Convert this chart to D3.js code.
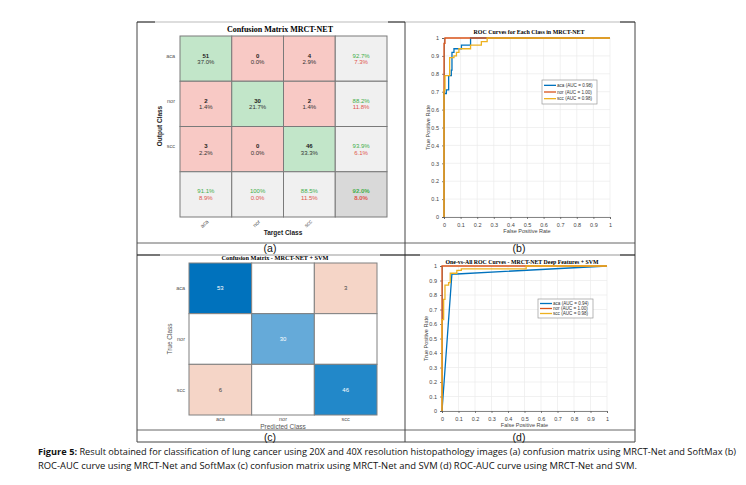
<!DOCTYPE html>
<html>
<head>
<meta charset="utf-8">
<script src="https://cdn.jsdelivr.net/npm/d3@7"></script>
<style>
  body { margin: 0; background: #fff; }
  svg { display: block; }
</style>
</head>
<body>
<svg width="746" height="485"></svg>
<script>
// Data
const classes = ["aca", "nor", "scc"];

// (a) softmax confusion matrix, rows = output class, cols = target class
const cmSoftmax = [
  [51, 0, 4],
  [2, 30, 2],
  [3, 0, 46]
];

// (c) SVM confusion matrix, rows = true class, cols = predicted class
const cmSvm = [
  [53, 0, 3],
  [0, 30, 0],
  [6, 0, 46]
];

// (b) ROC points [fpr, tpr]
const rocAcaB = [[0, 0], [0, 0.69], [0.014, 0.69], [0.014, 0.71], [0.028, 0.71], [0.028, 0.79], [0.044, 0.79], [0.044, 0.82], [0.048, 0.82], [0.048, 0.92], [0.06, 0.92], [0.06, 0.94], [0.105, 0.94], [0.105, 0.96], [0.16, 0.96], [0.16, 1], [1, 1]];
const rocNorB = [[0, 0], [0, 0.97], [0.006, 0.97], [0.006, 1], [1, 1]];
const rocSccB = [[0, 0], [0, 0.71], [0.006, 0.71], [0.006, 0.79], [0.034, 0.79], [0.034, 0.89], [0.06, 0.89], [0.06, 0.9], [0.075, 0.9], [0.075, 0.92], [0.09, 0.92], [0.09, 0.94], [0.16, 0.94], [0.16, 0.96], [0.225, 0.96], [0.225, 0.98], [0.26, 0.98], [0.26, 1], [1, 1]];
const aucB = [0.98, 1.00, 0.98];

// (d) ROC points [fpr, tpr]
const rocAcaD = [[0, 0], [0.06, 0.945], [0.09, 0.945], [1, 1]];
const rocNorD = [[0, 0], [0, 1], [1, 1]];
const rocSccD = [[0, 0], [0, 0.63], [0.01, 0.63], [0.01, 0.77], [0.018, 0.77], [0.018, 0.868], [0.04, 0.868], [0.04, 0.885], [0.05, 0.885], [0.05, 0.95], [0.09, 0.95], [0.09, 0.97], [0.117, 0.97], [0.117, 0.98], [0.51, 0.98], [0.51, 1], [1, 1]];
const aucD = [0.94, 1.00, 0.98];

const ticks = [0, 0.1, 0.2, 0.3, 0.4, 0.5, 0.6, 0.7, 0.8, 0.9, 1];
const rocColors = ["#0072bd", "#d95319", "#edb120"];

const svg = d3.select("svg");
const sans = "Arial, 'Liberation Sans', sans-serif";
const serif = "'Liberation Serif', 'Times New Roman', serif";

// Figure table borders
const borders = svg.append("g").attr("stroke-width", 1).attr("fill", "none");
[[137, 22, 635, 22, "#bbb"], [137, 243, 635, 243, "#666"], [137, 255, 635, 255, "#999"],
 [137, 430, 635, 430, "#666"], [137, 442, 635, 442, "#444"],
 [137, 22, 137, 442, "#444"], [405, 22, 405, 442, "#444"], [635, 22, 635, 442, "#444"]]
  .forEach(([x1, y1, x2, y2, c]) => {
    borders.append("line").attr("x1", x1).attr("y1", y1).attr("x2", x2).attr("y2", y2).attr("stroke", c);
  });
// short dark caps seen on the pasted images
[[137, 22, 155, 22], [388, 22, 405, 22], [620, 22, 635, 22], [137, 255, 160, 255], [380, 255, 420, 255], [620, 255, 635, 255]]
  .forEach(([x1, y1, x2, y2]) => {
    borders.append("line").attr("x1", x1).attr("y1", y1).attr("x2", x2).attr("y2", y2).attr("stroke", "#222");
  });

// Panel labels
[["(a)", 270, 252], ["(b)", 519, 252], ["(c)", 270, 441], ["(d)", 519, 441]].forEach(([t, x, y]) => {
  svg.append("text").attr("x", x).attr("y", y).attr("text-anchor", "middle")
    .attr("font-family", "'Liberation Sans', sans-serif").attr("font-size", 10.5).attr("fill", "#111").text(t);
});

// ---------- (a) Confusion matrix with summaries ----------
function panelA() {
  const g = svg.append("g");
  const n = classes.length;
  const x = d3.scaleBand().domain(d3.range(n + 1)).range([180, 387]);
  const y = d3.scaleBand().domain(d3.range(n + 1)).range([36, 217]);
  const total = d3.sum(cmSoftmax.flat());
  const fmt = v => v === 100 ? "100%" : v.toFixed(1) + "%";
  const green = "#3fae49", red = "#e0544c";

  g.append("text").attr("x", 280).attr("y", 32).attr("text-anchor", "middle")
    .attr("font-family", serif).attr("font-weight", "bold").attr("font-size", 8)
    .attr("textLength", 106).attr("lengthAdjust", "spacingAndGlyphs").text("Confusion Matrix MRCT-NET");

  for (let i = 0; i <= n; i++) {
    for (let j = 0; j <= n; j++) {
      let fill, lines;
      if (i < n && j < n) {
        const v = cmSoftmax[i][j];
        fill = i === j ? "#c2e6c9" : "#f8c9c5";
        lines = [[String(v), "#222", "bold"], [fmt(v / total * 100), "#333", "normal"]];
      } else {
        let correct, sum;
        if (i < n) { correct = cmSoftmax[i][i]; sum = d3.sum(cmSoftmax[i]); }
        else if (j < n) { correct = cmSoftmax[j][j]; sum = d3.sum(cmSoftmax, r => r[j]); }
        else { correct = d3.sum(classes, (c, k) => cmSoftmax[k][k]); sum = total; }
        const p = +(correct / sum * 100).toFixed(1);
        fill = (i === n && j === n) ? "#d9d9d9" : "#f0f0f0";
        const bold = (i === n && j === n) ? "bold" : "normal";
        lines = [[fmt(p), green, bold], [fmt(+(100 - p).toFixed(1)), red, bold]];
      }
      g.append("rect").attr("x", x(j)).attr("y", y(i)).attr("width", x.bandwidth()).attr("height", y.bandwidth())
        .attr("fill", fill).attr("stroke", "#7a7a7a").attr("stroke-width", 1);
      const cx = x(j) + x.bandwidth() / 2, cy = y(i) + y.bandwidth() / 2;
      lines.forEach(([t, c, w], k) => {
        g.append("text").attr("x", cx).attr("y", cy - 1 + k * 6.5).attr("text-anchor", "middle")
          .attr("font-family", sans).attr("font-size", 6).attr("font-weight", w).attr("fill", c).text(t);
      });
    }
  }
  classes.forEach((c, i) => {
    g.append("text").attr("x", 175).attr("y", y(i) + y.bandwidth() / 2 - 1).attr("text-anchor", "end")
      .attr("font-family", sans).attr("font-size", 5.5).attr("fill", "#555").text(c);
    g.append("text")
      .attr("transform", `translate(${x(i) + x.bandwidth() / 2 + 3},${222}) rotate(-45)`)
      .attr("text-anchor", "end").attr("font-family", sans).attr("font-size", 5.5).attr("fill", "#555").text(c);
  });
  g.append("text").attr("transform", "translate(162,126) rotate(-90)").attr("text-anchor", "middle")
    .attr("font-family", sans).attr("font-weight", "bold").attr("font-size", 6.5).attr("fill", "#222").text("Output Class");
  g.append("text").attr("x", 283).attr("y", 235).attr("text-anchor", "middle")
    .attr("font-family", sans).attr("font-weight", "bold").attr("font-size", 6.5).attr("fill", "#222").text("Target Class");
}

// ---------- (c) SVM confusion matrix ----------
function panelC() {
  const g = svg.append("g");
  const x = d3.scaleBand().domain(classes).range([189, 377]);
  const y = d3.scaleBand().domain(classes).range([263, 415]);
  const diagColor = v => v === 53 ? "#0072bd" : v === 46 ? "#2288c9" : "#65aad9";

  g.append("text").attr("x", 275).attr("y", 260).attr("text-anchor", "middle")
    .attr("font-family", serif).attr("font-weight", "bold").attr("font-size", 7)
    .attr("textLength", 107).attr("lengthAdjust", "spacingAndGlyphs").text("Confusion Matrix - MRCT-NET + SVM");

  cmSvm.forEach((row, i) => row.forEach((v, j) => {
    let fill = "#ffffff";
    if (v > 0) fill = i === j ? diagColor(v) : "#f5d5c7";
    g.append("rect").attr("x", x(classes[j])).attr("y", y(classes[i]))
      .attr("width", x.bandwidth()).attr("height", y.bandwidth())
      .attr("fill", fill).attr("stroke", "#808080").attr("stroke-width", 1);
    if (v > 0) {
      g.append("text").attr("x", x(classes[j]) + x.bandwidth() / 2).attr("y", y(classes[i]) + y.bandwidth() / 2 + 2)
        .attr("text-anchor", "middle").attr("font-family", sans).attr("font-size", 6)
        .attr("fill", i === j ? "#ffffff" : "#444").text(v);
    }
  }));
  classes.forEach(c => {
    g.append("text").attr("x", 185).attr("y", y(c) + y.bandwidth() / 2 + 2).attr("text-anchor", "end")
      .attr("font-family", sans).attr("font-size", 5.5).attr("fill", "#555").text(c);
    g.append("text").attr("x", x(c) + x.bandwidth() / 2).attr("y", 421).attr("text-anchor", "middle")
      .attr("font-family", sans).attr("font-size", 5.5).attr("fill", "#555").text(c);
  });
  g.append("text").attr("transform", "translate(172,339) rotate(-90)").attr("text-anchor", "middle")
    .attr("font-family", sans).attr("font-size", 6.5).attr("fill", "#555").text("True Class");
  g.append("text").attr("x", 283).attr("y", 428.5).attr("text-anchor", "middle")
    .attr("font-family", sans).attr("font-size", 6.5).attr("fill", "#555").text("Predicted Class");
}

// ---------- ROC panels ----------
function rocPanel(opt) {
  const g = svg.append("g");
  const x = d3.scaleLinear().domain([0, 1]).range([opt.x0, opt.x1]);
  const y = d3.scaleLinear().domain([0, 1]).range([opt.y0, opt.y1]);

  // grid
  ticks.forEach(t => {
    g.append("line").attr("x1", x(t)).attr("x2", x(t)).attr("y1", y(0)).attr("y2", y(1)).attr("stroke", "#ebebeb").attr("stroke-width", 0.7);
    g.append("line").attr("x1", x(0)).attr("x2", x(1)).attr("y1", y(t)).attr("y2", y(t)).attr("stroke", "#ebebeb").attr("stroke-width", 0.7);
  });

  const xAxis = g.append("g").attr("transform", `translate(0,${opt.y0})`)
    .call(d3.axisBottom(x).tickValues(ticks).tickSize(2).tickFormat(d3.format("")));
  const yAxis = g.append("g").attr("transform", `translate(${opt.x0},0)`)
    .call(d3.axisLeft(y).tickValues(ticks).tickSize(2).tickFormat(d3.format("")));
  [xAxis, yAxis].forEach(a => {
    a.selectAll("path,line").attr("stroke", "#555").attr("stroke-width", 0.7);
    a.selectAll("text").attr("font-family", sans).attr("font-size", 5.5).attr("fill", "#444");
  });
  xAxis.selectAll("text").attr("dy", "0.9em");

  const line = d3.line().x(d => x(d[0])).y(d => y(d[1]));
  opt.series.forEach((s, i) => {
    g.append("path").attr("d", line(s)).attr("fill", "none")
      .attr("stroke", rocColors[i]).attr("stroke-width", 1.3);
  });

  g.append("text").attr("x", opt.titleX).attr("y", opt.titleY).attr("text-anchor", "middle")
    .attr("font-family", serif).attr("font-weight", "bold").attr("font-size", 7)
    .attr("textLength", opt.titleW).attr("lengthAdjust", "spacingAndGlyphs").text(opt.title);
  g.append("text").attr("x", (opt.x0 + opt.x1) / 2).attr("y", opt.y0 + 16).attr("text-anchor", "middle")
    .attr("font-family", sans).attr("font-size", 5.5).attr("fill", "#444").text("False Positive Rate");
  g.append("text").attr("transform", `translate(${opt.x0 - 14},${(opt.y0 + opt.y1) / 2}) rotate(-90)`)
    .attr("text-anchor", "middle").attr("font-family", sans).attr("font-size", 5.5).attr("fill", "#444").text("True Positive Rate");

  // legend
  const lg = g.append("g").attr("transform", `translate(${opt.legX},${opt.legY})`);
  lg.append("rect").attr("width", opt.legW).attr("height", opt.legH).attr("fill", "#fff").attr("stroke", "#999").attr("stroke-width", 0.7);
  const rowH = (opt.legH - 4) / 3;
  classes.forEach((c, i) => {
    const yy = 2 + rowH * (i + 0.5);
    lg.append("line").attr("x1", 2).attr("x2", 14).attr("y1", yy).attr("y2", yy).attr("stroke", rocColors[i]).attr("stroke-width", 1.3);
    lg.append("text").attr("x", 15).attr("y", yy + 1.6).attr("font-family", sans).attr("font-size", 4.6).attr("fill", "#333")
      .text(`${c} (AUC = ${opt.auc[i].toFixed(2)})`);
  });
}

panelA();
panelC();
rocPanel({
  x0: 444, x1: 610, y0: 217, y1: 38,
  series: [rocAcaB, rocNorB, rocSccB], auc: aucB,
  title: "ROC Curves for Each Class in MRCT-NET", titleX: 529, titleY: 34, titleW: 111,
  legX: 542, legY: 80, legW: 55, legH: 24
});
rocPanel({
  x0: 442, x1: 607, y0: 411, y1: 266,
  series: [rocAcaD, rocNorD, rocSccD], auc: aucD,
  title: "One-vs-All ROC Curves - MRCT-NET Deep Features + SVM", titleX: 522, titleY: 264, titleW: 153,
  legX: 538, legY: 299, legW: 55, legH: 19
});

// Caption
const cap = svg.append("g").attr("font-family", "'Open Sans', 'Liberation Sans', sans-serif").attr("font-size", 8.5).attr("fill", "#111");
const c1 = cap.append("text").attr("x", 38).attr("y", 455).attr("textLength", 698).attr("lengthAdjust", "spacingAndGlyphs");
c1.append("tspan").attr("font-weight", "bold").text("Figure 5:");
c1.append("tspan").text(" Result obtained for classification of lung cancer using 20X and 40X resolution histopathology images (a) confusion matrix using MRCT-Net  and SoftMax (b)");
cap.append("text").attr("x", 38).attr("y", 469).attr("textLength", 599).attr("lengthAdjust", "spacingAndGlyphs")
  .text("ROC-AUC curve using MRCT-Net and SoftMax (c) confusion matrix using MRCT-Net  and SVM (d) ROC-AUC curve using MRCT-Net and SVM.");
</script>
</body>
</html>
